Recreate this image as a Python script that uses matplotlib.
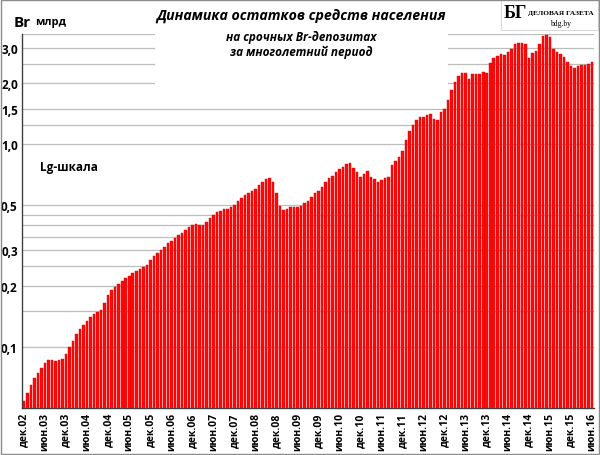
import numpy as np
import matplotlib.pyplot as plt
from matplotlib.patches import Rectangle

# остатки на срочных Br-депозитах, млрд, помесячно дек.02 - июн.16
ostatki = [
    0.054,                                                               # 2002
    0.059, 0.065, 0.0705, 0.074, 0.079, 0.083, 0.0866, 0.0866, 0.0855, 0.086, 0.0875, 0.092,  # 2003
    0.100, 0.107, 0.1155, 0.122, 0.129, 0.135, 0.140, 0.145, 0.149, 0.152, 0.165, 0.180,      # 2004
    0.190, 0.197, 0.205, 0.212, 0.219, 0.225, 0.231, 0.237, 0.242, 0.249, 0.255, 0.270,      # 2005
    0.281, 0.292, 0.301, 0.311, 0.324, 0.335, 0.345, 0.356, 0.367, 0.378, 0.390, 0.400,      # 2006
    0.405, 0.398, 0.400, 0.415, 0.432, 0.447, 0.461, 0.469, 0.478, 0.482, 0.488, 0.501,      # 2007
    0.528, 0.546, 0.565, 0.578, 0.589, 0.605, 0.630, 0.652, 0.672, 0.685, 0.648, 0.573,      # 2008
    0.497, 0.473, 0.478, 0.488, 0.488, 0.488, 0.495, 0.511, 0.525, 0.552, 0.573, 0.587,      # 2009
    0.619, 0.655, 0.678, 0.698, 0.726, 0.751, 0.776, 0.797, 0.806, 0.768, 0.726, 0.690,      # 2010
    0.717, 0.742, 0.690, 0.675, 0.655, 0.665, 0.685, 0.690, 0.788, 0.827, 0.862, 0.922,      # 2011
    1.047, 1.165, 1.245, 1.313, 1.362, 1.362, 1.390, 1.416, 1.340, 1.313, 1.443, 1.487,      # 2012
    1.652, 1.845, 2.030, 2.170, 2.256, 2.240, 2.090, 2.210, 2.210, 2.230, 2.280, 2.256,      # 2013
    2.530, 2.650, 2.740, 2.800, 2.770, 2.850, 2.960, 3.110, 3.170, 3.170, 3.110, 2.670,      # 2014
    2.830, 2.880, 3.140, 3.420, 3.450, 3.380, 2.940, 2.860, 2.800, 2.690, 2.550, 2.430,      # 2015
    2.390, 2.430, 2.450, 2.470, 2.500, 2.540,                                                # 2016
]

podpisi_x = ['дек.02', 'июн.03', 'дек.03', 'июн.04', 'дек.04', 'июн.05', 'дек.05',
             'июн.06', 'дек.06', 'июн.07', 'дек.07', 'июн.08', 'дек.08', 'июн.09',
             'дек.09', 'июн.10', 'дек.10', 'июн.11', 'дек.11', 'июн.12', 'дек.12',
             'июн.13', 'дек.13', 'июн.14', 'дек.14', 'июн.15', 'дек.15', 'июн.16']

y_podpisi = [0.1, 0.2, 0.3, 0.5, 1.0, 1.5, 2.0, 3.0]
y_setka = [0.1, 0.15, 0.2, 0.25, 0.3, 0.35, 0.4, 0.45, 0.5,
           1.0, 1.25, 1.5, 2.0, 2.5, 3.0, 3.5]

plt.rcParams['font.family'] = ['Open Sans', 'DejaVu Sans']

fig = plt.figure(figsize=(6, 4.56), dpi=100)
ax = fig.add_axes([22/600, 47/456, 572/600, 374/456])

x = np.arange(len(ostatki))
ax.bar(x, ostatki, width=0.72, color='#ff0a0a', edgecolor='#d80000',
       linewidth=0.3, zorder=3)

ax.set_yscale('log')
ax.set_ylim(0.05, 3.5)
ax.set_xlim(-0.6, len(ostatki) - 0.4)

for g in y_setka:
    ax.axhline(g, color='#bdbdbd', linewidth=0.9, zorder=1)

ax.set_yticks(y_podpisi)
ax.set_yticklabels([('%.1f' % v).replace('.', ',') for v in y_podpisi],
                   fontsize=8.5, fontweight='bold')
ax.yaxis.set_minor_locator(plt.NullLocator())
ax.tick_params(axis='y', length=0, pad=3)

ax.set_xticks(x[::6])
ax.set_xticklabels(podpisi_x, rotation=90, fontsize=7.5, fontweight='bold')
ax.tick_params(axis='x', length=0, pad=3)

for s in ['top', 'right']:
    ax.spines[s].set_visible(False)
for s in ['left', 'bottom']:
    ax.spines[s].set_color('#404040')
    ax.spines[s].set_linewidth(1.0)

# белая подложка заголовка и логотипа
fig.patches.append(Rectangle((155/600, 1 - 92/456), 293/600, 92/456,
                             transform=fig.transFigure, facecolor='white',
                             edgecolor='none', zorder=5))
fig.patches.append(Rectangle((501/600, 1 - 31/456), 97/600, 31/456,
                             transform=fig.transFigure, facecolor='white',
                             edgecolor='#d0d0d0', linewidth=0.6, zorder=5))

fig.text(301/600, 1 - 16/456, 'Динамика остатков средств населения',
         ha='center', va='center', fontsize=10.2, fontweight='bold',
         style='italic', zorder=6)
fig.text(301/600, 1 - 37/456, 'на срочных Br-депозитах',
         ha='center', va='center', fontsize=8.5, fontweight='bold',
         style='italic', zorder=6)
fig.text(301/600, 1 - 52/456, 'за многолетний период',
         ha='center', va='center', fontsize=8.5, fontweight='bold',
         style='italic', zorder=6)

fig.text(14/600, 1 - 23/456, 'Br', ha='left', va='center', fontsize=11,
         fontweight='bold')
fig.text(35/600, 1 - 23/456, 'млрд', ha='left', va='center', fontsize=8,
         fontweight='bold')
fig.text(40/600, 1 - 168/456, 'Lg-шкала', ha='left', va='center',
         fontsize=8.5, fontweight='bold')

fig.text(504/600, 1 - 14/456, 'БГ', ha='left', va='center', fontsize=13,
         fontweight='bold', family='Liberation Serif', zorder=6)
fig.text(561/600, 1 - 13/456, 'ДЕЛОВАЯ ГАЗЕТА', ha='center', va='center',
         fontsize=5.3, fontweight='bold', family='Liberation Serif',
         zorder=6)
fig.text(561/600, 1 - 24/456, 'bdg.by', ha='center', va='center',
         fontsize=5.5, family='Liberation Serif', zorder=6)

fig.patches.append(Rectangle((0.002, 0.002), 0.996, 0.995,
                             transform=fig.transFigure, facecolor='none',
                             edgecolor='#8c8c8c', linewidth=1.0, zorder=7))

fig.savefig('out.png', dpi=100)
